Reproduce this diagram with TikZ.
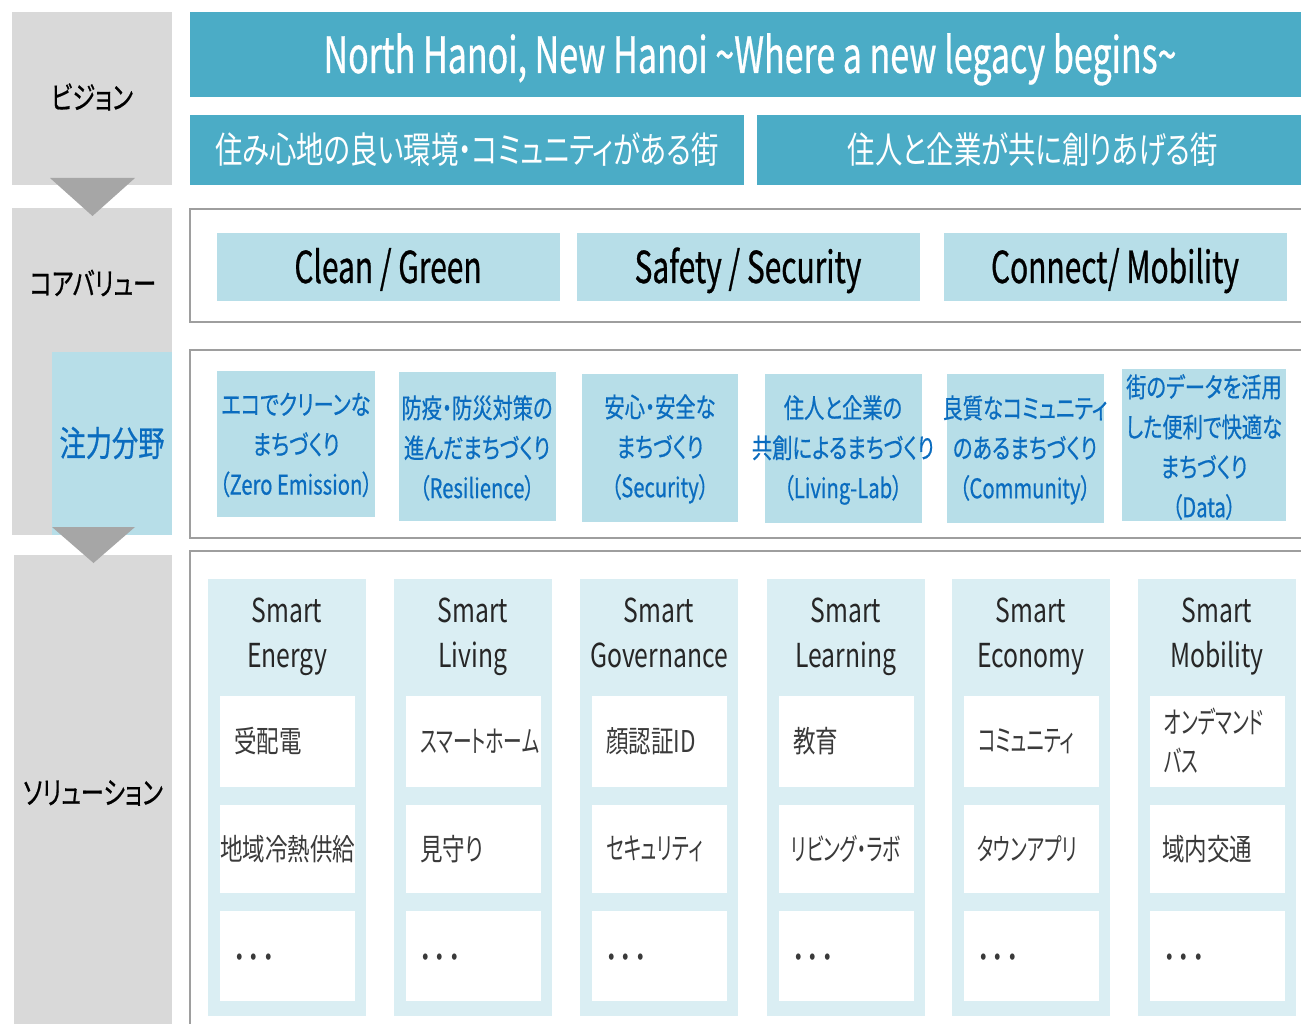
\documentclass[tikz,border=0pt]{standalone}
\usepackage{graphicx}
\usepackage{fontspec}
\setmainfont[FakeStretch=0.75,RawFeature=+palt]{Noto Sans CJK JP}
\newfontfamily\heavyfont[FakeStretch=0.75,RawFeature=+palt,FakeBold=0.6]{Noto Sans CJK JP}
\newfontfamily\narrowfont[FakeStretch=0.68,RawFeature=+palt,FakeBold=0.6]{Noto Sans CJK JP}
\definecolor{grayC}{HTML}{D9D9D9}
\definecolor{arrC}{HTML}{A6A6A6}
\definecolor{tealC}{HTML}{4BACC6}
\definecolor{lbC}{HTML}{B7DEE8}
\definecolor{solC}{HTML}{DAEEF3}
\definecolor{focusC}{HTML}{0A6CBF}
\definecolor{frameC}{HTML}{9E9E9E}
\definecolor{headC}{HTML}{262626}
\definecolor{itemC}{HTML}{3A3A3A}
\newcommand{\threedots}{・\kern3pt・\kern3pt・}
\newcommand{\kn}[1]{\scalebox{0.83}[1]{#1}}
\begin{document}
\begin{tikzpicture}[x=1pt,y=-1pt,
  lbl/.style={inner sep=0pt,text=black,font=\heavyfont\fontsize{31}{38}\selectfont},
  titletxt/.style={inner sep=0pt,anchor=base,text=white,font=\narrowfont\fontsize{50}{56}\selectfont},
  subtxt/.style={inner sep=0pt,anchor=base,text=white,font=\fontsize{36.5}{44}\selectfont},
  coretxt/.style={inner sep=0pt,anchor=base,text=black,font=\narrowfont\fontsize{44}{50}\selectfont},
  focustxt/.style={inner sep=0pt,align=center,text=focusC,font=\heavyfont\fontsize{27}{40}\selectfont},
  headtxt/.style={inner sep=0pt,anchor=north,align=center,text=headC,font=\fontsize{33}{45}\selectfont},
  itemtxt/.style={inner sep=0pt,anchor=west,align=left,text=itemC,font=\fontsize{30}{39}\selectfont},
  frame/.style={draw=frameC,line width=1.8pt,fill=white}]
\useasboundingbox (0,0) rectangle (1301,1024);
\clip (0,0) rectangle (1301,1024);
\fill[white] (0,0) rectangle (1301,1024);

% left column
\fill[grayC] (12,12) rectangle (172,185);
\fill[grayC] (12,208) rectangle (172,535);
\fill[lbC] (52,352) rectangle (172,535);
\fill[grayC] (14,555) rectangle (172,1040);
\fill[arrC] (50,178) -- (135,178) -- (92.5,216) -- cycle;
\fill[arrC] (52,527) -- (135,527) -- (93.5,563) -- cycle;
\node[lbl] (vision) at (92,97) {ビジョン};
\node[lbl] (core) at (93,283) {コアバリュー};
\node[lbl,text=focusC,font=\heavyfont\fontsize{35}{40}\selectfont] (focus) at (112,443) {注力分野};
\node[lbl] (solution) at (93,793) {ソリューション};

% vision
\fill[tealC] (190,12) rectangle (1310,97);
\node[titletxt] (title) at (750,73) {North Hanoi, New Hanoi \textasciitilde Where a new legacy begins\textasciitilde};
\fill[tealC] (190,115) rectangle (744,185);
\fill[tealC] (757,115) rectangle (1310,185);
\node[subtxt] (v1) at (467,164) {住み心地の良い環境・コミュニティがある街};
\node[subtxt] (v2) at (1033,164) {住人と企業が共に創りあげる街};

% core values
\draw[frame] (190,209) rectangle (1320,322);
\fill[lbC] (217,233) rectangle (560,301);
\fill[lbC] (577,233) rectangle (920,301);
\fill[lbC] (944,233) rectangle (1287,301);
\node[coretxt] (cv1) at (388,283) {Clean / Green};
\node[coretxt] (cv2) at (748,283) {Safety / Security};
\node[coretxt] (cv3) at (1115,283) {Connect/ Mobility};

% focus areas
\draw[frame] (190,350) rectangle (1320,538);
\fill[lbC] (217,371) rectangle (375,517);
\fill[lbC] (399,372) rectangle (556,521);
\fill[lbC] (582,374) rectangle (738,522);
\fill[lbC] (765,374) rectangle (922,523);
\fill[lbC] (947,374) rectangle (1104,523);
\fill[lbC] (1122,369) rectangle (1286,521);
\node[focustxt] (f1) at (296,445) {エコでクリーンな\\まちづくり\\（Zero Emission）};
\node[focustxt] (f2) at (477,448) {防疫・防災対策の\\進んだまちづくり\\（Resilience）};
\node[focustxt] (f3) at (660,449) {安心・安全な\\まちづくり\\（Security）};
\node[focustxt] (f4) at (843,450) {住人と企業の\\共創によるまちづくり\\（Living-Lab）};
\node[focustxt] (f5) at (1025,450) {良質なコミュニティ\\のあるまちづくり\\（Community）};
\node[focustxt] (f6) at (1204,447) {街のデータを活用\\した便利で快適な\\まちづくり\\（Data）};

% solutions
\draw[frame] (190,551) rectangle (1320,1040);
\foreach \i/\x/\hd/\ia/\ib/\ob in {
  1/208/{Smart\\Energy}/{受配電}/{地域冷熱供給}/12,
  2/394/{Smart\\Living}/{\kn{スマートホーム}}/{見守り}/26,
  3/580/{Smart\\Governance}/{顔認証ID}/{\kn{セキュリティ}}/26,
  4/767/{Smart\\Learning}/{教育}/{\kn{リビング・ラボ}}/24,
  5/952/{Smart\\Economy}/{\kn{コミュニティ}}/{\kn{タウンアプリ}}/25,
  6/1138/{Smart\\Mobility}/{\kn{オンデマンド}\\\kn{バス}}/{域内交通}/24}{
  \fill[solC] (\x,579) rectangle (\x+158,1016);
  \fill[white] (\x+12,696) rectangle (\x+147,787);
  \fill[white] (\x+12,805) rectangle (\x+147,893);
  \fill[white] (\x+12,911) rectangle (\x+147,1001);
  \node[headtxt] (h\i) at (\x+79,598) {\hd};
  \node[itemtxt] (a\i) at (\x+26,741) {\ia};
  \node[itemtxt] (b\i) at (\x+\ob,849) {\ib};
  \node[itemtxt] (c\i) at (\x+26,961) {\threedots};
}
\end{tikzpicture}
\end{document}
